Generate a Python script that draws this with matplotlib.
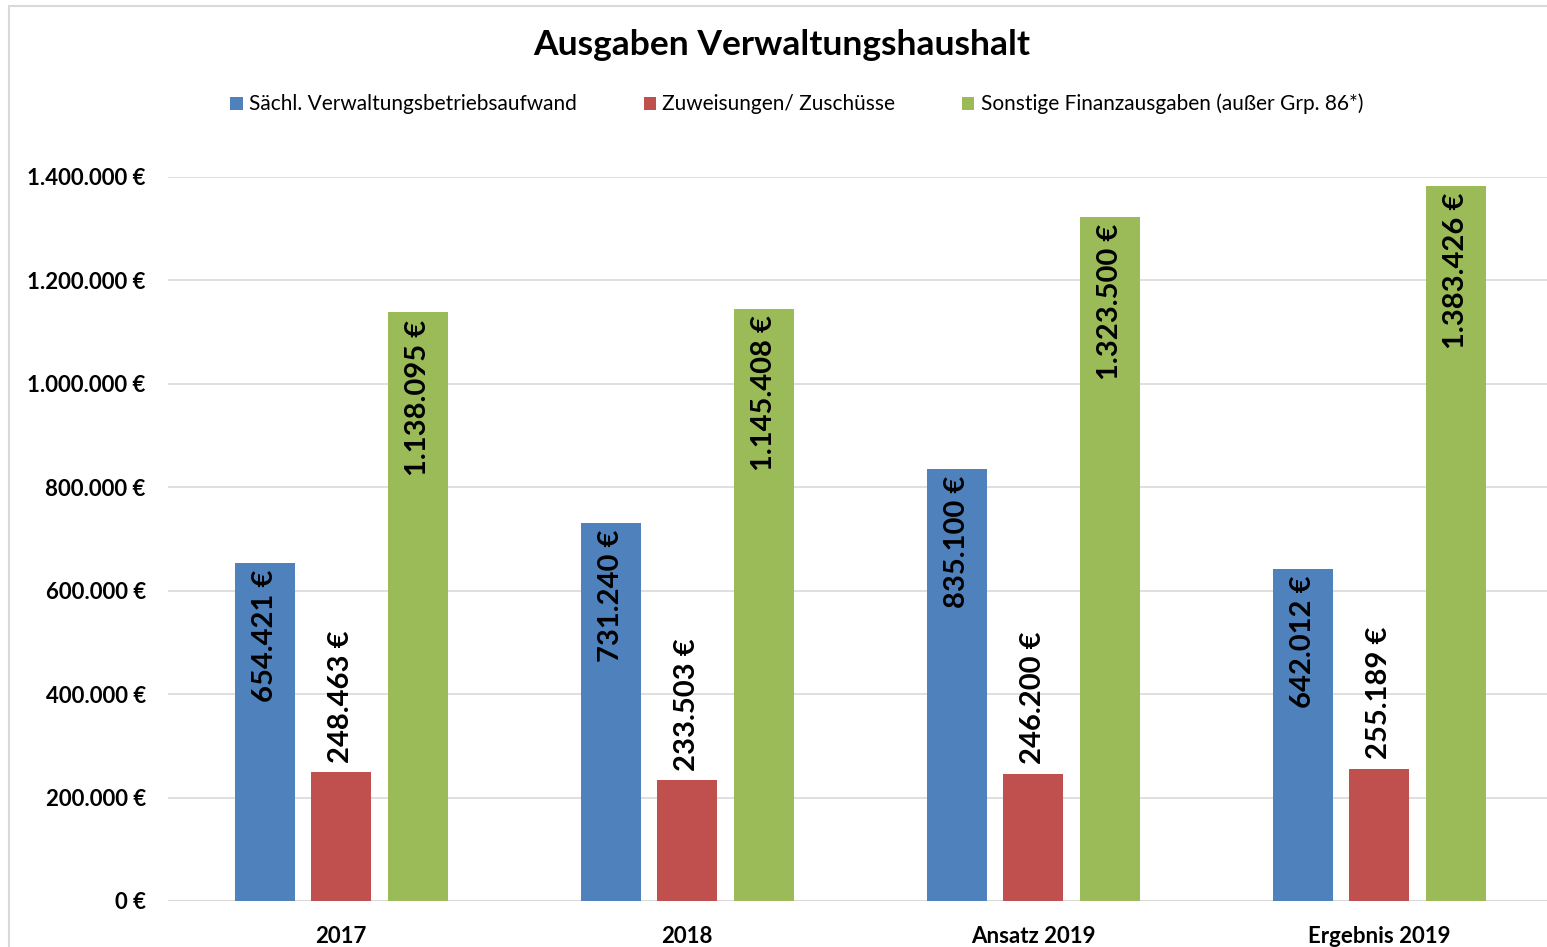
import numpy as np
import matplotlib
matplotlib.use("Agg")
import matplotlib.pyplot as plt
from matplotlib.patches import Rectangle

plt.rcParams['font.family'] = ['Lato', 'DejaVu Sans']

categories = ['2017', '2018', 'Ansatz 2019', 'Ergebnis 2019']
series_names = ['Sächl. Verwaltungsbetriebsaufwand', 'Zuweisungen/ Zuschüsse',
                'Sonstige Finanzausgaben (außer Grp. 86*)']
saechl = [654421, 731240, 835100, 642012]
zuweisungen = [248463, 233503, 246200, 255189]
sonstige = [1138095, 1145408, 1323500, 1383426]
colors = ['#4f81bd', '#c0504d', '#9bbb59']
yticks = [0, 200000, 400000, 600000, 800000, 1000000, 1200000, 1400000]


def fmt(v):
    return '{:,}'.format(int(v)).replace(',', '.') + ' €'


fig = plt.figure(figsize=(15.47, 9.47), dpi=100)
ax = fig.add_axes([0.1086, 0.0486, 0.8947, 0.7645])

x = np.arange(len(categories))
offsets = [-0.22, 0.0, 0.223]
width = 0.174
all_series = [saechl, zuweisungen, sonstige]

for vals, off, col, name in zip(all_series, offsets, colors, series_names):
    bars = ax.bar(x + off, vals, width, color=col, label=name, zorder=2)
    for b, v in zip(bars, vals):
        cx = b.get_x() + b.get_width() / 2
        if v > 500000:
            # inside end
            ax.annotate(fmt(v), (cx, v), xytext=(0, -5), textcoords='offset points',
                        rotation=90, ha='center', va='top', fontsize=21,
                        fontweight='bold', color='black', zorder=3)
        else:
            # outside end
            ax.annotate(fmt(v), (cx, v), xytext=(0, 7), textcoords='offset points',
                        rotation=90, ha='center', va='bottom', fontsize=21,
                        fontweight='bold', color='black', zorder=3)

ax.set_xlim(-0.5, 3.5)
ax.set_ylim(0, 1400000)
ax.set_yticks(yticks)
ax.set_yticklabels([fmt(v) for v in yticks], fontsize=16, fontweight='bold')
ax.set_xticks(x)
ax.set_xticklabels(categories, fontsize=16, fontweight='bold')
ax.tick_params(axis='both', length=0)
ax.tick_params(axis='y', pad=16)
ax.tick_params(axis='x', pad=18)
ax.grid(axis='y', color='#d9d9d9', linewidth=1.2, zorder=0)
for s in ax.spines.values():
    s.set_visible(False)
ax.axhline(0, color='#d9d9d9', linewidth=1.5, zorder=1)

fig.text(0.505, 0.953, 'Ausgaben Verwaltungshaushalt', ha='center', va='center',
         fontsize=25.5, fontweight='bold')
fig.legend(loc='center', bbox_to_anchor=(0.515, 0.89), ncol=3, frameon=False,
           fontsize=15, handlelength=0.6, handleheight=0.6, handletextpad=0.3,
           columnspacing=3.2)

fig.add_artist(Rectangle((0.006, -0.01), 1.2, 1.004, transform=fig.transFigure,
                         fill=False, edgecolor='#d9d9d9', linewidth=1.5))

fig.savefig('out.png', dpi=100)
